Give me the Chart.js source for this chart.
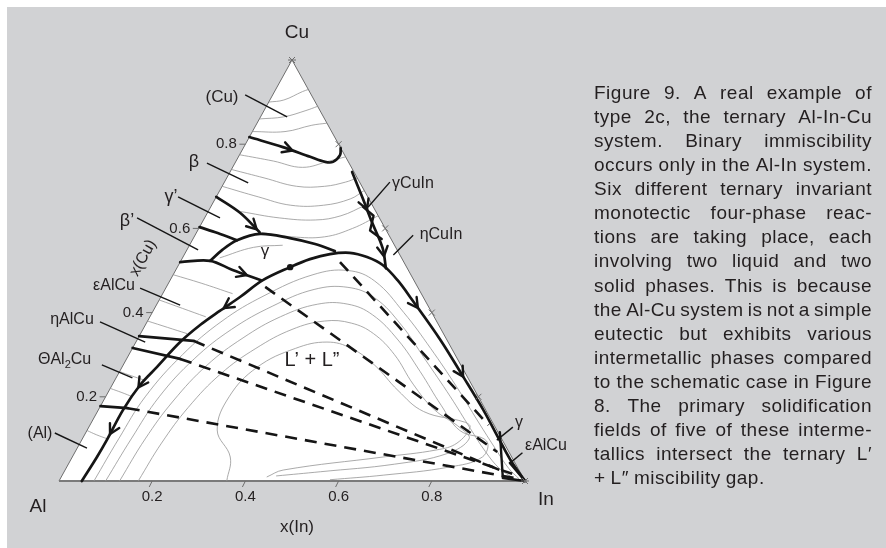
<!DOCTYPE html>
<html><head><meta charset="utf-8">
<script src="https://cdn.jsdelivr.net/npm/chart.js@4.4.1/dist/chart.umd.min.js"></script>
<style>
html,body{margin:0;padding:0;width:886px;height:548px;overflow:hidden;background:#fff;}
#panel{position:absolute;left:7px;top:7px;right:0;bottom:0;background:#d1d2d4;}
#c{position:absolute;left:0;top:0;}
#cap{position:absolute;left:594px;top:81px;width:278px;font-family:"Liberation Sans",Arial,sans-serif;font-size:19px;letter-spacing:0.5px;line-height:24.07px;color:#231f20;}
#cap .l{display:flex;justify-content:space-between;white-space:nowrap;height:24.07px;}
#cap .l.last{justify-content:flex-start;gap:5px;}
</style></head><body>
<div id="panel"></div>
<canvas id="c" width="886" height="548"></canvas>
<div id="cap"></div>
<script>
// ---- data: compositions as [x(In), x(Cu)] ----
const TICKS = [0.2, 0.4, 0.6, 0.8];
const TRIANGLE = [[0,0],[1,0],[0,1],[0,0]];
const GAP_BOUNDARY = [[0.049,0],[0.053,0.057],[0.054,0.097],[0.053,0.169],[0.060,0.228],[0.075,0.271],[0.095,0.330],[0.118,0.371],[0.143,0.404],[0.170,0.437],[0.199,0.477],[0.242,0.508],[0.275,0.527],[0.312,0.539],[0.353,0.542],[0.395,0.532],[0.438,0.513],[0.488,0.477],[0.543,0.430],[0.651,0.335],[0.739,0.252],[0.826,0.169],[0.897,0.097],[0.949,0.045],[1,0]];
const CUIN_LINE = [[0.262,0.734],[0.313,0.675],[0.364,0.615],[0.418,0.553],[0.449,0.505]];
const BETA_LINE = [[0,0.817],[0.084,0.793],[0.154,0.770],[0.192,0.758],[0.209,0.758],[0.216,0.774],[0.209,0.791]];
const GAMMAP_LINE = [[0,0.675],[0.070,0.637],[0.135,0.591]];
const BETAP_LINE = [[0,0.603],[0.046,0.589],[0.096,0.572]];
const GAMMA_LINE = [[0.063,0.523],[0.076,0.549],[0.096,0.572],[0.138,0.587],[0.207,0.577],[0.268,0.563],[0.319,0.546]];
const EPS_LINE = [[0,0.520],[0.063,0.523],[0.122,0.501],[0.195,0.477]];
const GAMMACUIN_LINE = [[0.327,0.651],[0.36,0.63],[0.37,0.595],[0.405,0.575]];
const IN_CORNER_1 = [[0.888,0.116],[0.949,0.007],[1,0]];
const IN_CORNER_2 = [[0.946,0.043],[1,0]];
const TIE_SOLID = [
  [[0,0.344],[0.122,0.333]],
  [[0,0.316],[0.115,0.290]],
  [[0,0.178],[0.061,0.173]]
];
const TIE_DASHED = [
  [[0.122,0.333],[0.946,0.021]],
  [[0.115,0.290],[0.964,0.017]],
  [[0.061,0.173],[0.975,0.007]],
  [[0.212,0.461],[0.906,0.069]],
  [[0.343,0.520],[0.855,0.133]]
];
const GAP_DOT = [[0.242,0.508]];
const ISO_GAP = [
  [[0.075,0],[0.078,0.1],[0.085,0.2],[0.115,0.3],[0.16,0.38],[0.22,0.44],[0.30,0.49],[0.37,0.50],[0.44,0.475],[0.54,0.40],[0.64,0.315],[0.74,0.225],[0.83,0.14],[0.90,0.075],[0.95,0.03],[0.985,0.005]],
  [[0.10,0],[0.105,0.1],[0.115,0.2],[0.145,0.29],[0.19,0.36],[0.25,0.415],[0.32,0.455],[0.39,0.46],[0.46,0.435],[0.55,0.37],[0.64,0.29],[0.74,0.20],[0.82,0.125],[0.88,0.07],[0.93,0.03],[0.975,0.005]],
  [[0.13,0],[0.135,0.1],[0.15,0.19],[0.18,0.275],[0.225,0.34],[0.28,0.39],[0.345,0.42],[0.41,0.42],[0.475,0.395],[0.56,0.335],[0.645,0.26],[0.73,0.18],[0.80,0.12],[0.87,0.095],[0.88,0.057],[0.82,0.033],[0.69,0.014],[0.58,0.003]],
  [[0.17,0],[0.175,0.09],[0.19,0.175],[0.22,0.255],[0.265,0.315],[0.32,0.36],[0.38,0.38],[0.44,0.375],[0.50,0.35],[0.57,0.30],[0.645,0.23],[0.72,0.17],[0.80,0.125],[0.83,0.10],[0.80,0.065],[0.70,0.04],[0.55,0.022],[0.46,0.012]],
  [[0.36,0],[0.339,0.057],[0.279,0.121],[0.265,0.2],[0.29,0.27],[0.35,0.315],[0.41,0.33],[0.47,0.315],[0.54,0.275],[0.62,0.215],[0.70,0.165],[0.80,0.14],[0.818,0.128],[0.809,0.09],[0.774,0.074],[0.667,0.057],[0.468,0.026],[0.441,0.0095]]
];
const ISO_UPPER = [
  [[0,0.90],[0.03,0.905],[0.06,0.925],[0.07,0.93]],
  [[0,0.86],[0.05,0.865],[0.09,0.88],[0.11,0.89]],
  [[0,0.83],[0.07,0.83],[0.12,0.845],[0.15,0.85]],
  [[0,0.775],[0.08,0.76],[0.15,0.745],[0.20,0.76],[0.23,0.77]],
  [[0,0.74],[0.08,0.72],[0.16,0.70],[0.22,0.70],[0.26,0.71],[0.28,0.72]],
  [[0,0.70],[0.09,0.675],[0.17,0.655],[0.24,0.655],[0.29,0.67],[0.31,0.69]],
  [[0.07,0.64],[0.16,0.625],[0.24,0.62],[0.29,0.63],[0.33,0.655],[0.34,0.66]],
  [[0.14,0.59],[0.21,0.58],[0.28,0.58],[0.33,0.60],[0.37,0.63]]
];
const ISO_LEFT = [
  [[0,0.49],[0.07,0.47],[0.15,0.445]],
  [[0,0.43],[0.06,0.41],[0.12,0.39]],
  [[0,0.38],[0.05,0.365],[0.10,0.35]],
  [[0,0.26],[0.03,0.25],[0.062,0.24]],
  [[0,0.22],[0.03,0.21],[0.058,0.20]],
  [[0,0.12],[0.025,0.11],[0.054,0.10]],
  [[0.08,0.53],[0.14,0.555],[0.2,0.56]]
];
const LEADERS = [
  [[-0.059,0.917],[0.057,0.865]],
  [[-0.060,0.755],[0.052,0.708]],
  [[-0.082,0.675],[0.033,0.625]],
  [[-0.145,0.625],[0.024,0.549]],
  [[-0.055,0.458],[0.051,0.418]],
  [[-0.101,0.378],[0.020,0.330]],
  [[-0.046,0.276],[0.035,0.245]],
  [[-0.066,0.114],[0.021,0.078]],
  [[0.355,0.710],[0.338,0.651]],
  [[0.468,0.584],[0.449,0.537]],
  [[0.910,0.128],[0.891,0.097]],
  [[0.961,0.067],[0.947,0.043]]
];
// arrowheads: curve, segment index, position on segment, reversed
const ARROWS = [
  ['beta',1,0.35,false],['gammap',1,0.85,false],
  ['gap',2,0.2,true],['gap',3,0.9,true],['gap',8,0.2,true],
  ['eps',2,0.5,false],['gap',18,0.2,false],['gap',20,0.05,false],
  ['cuin',1,0.5,false],['cuin',3,0.4,false]
];
const CAPTION = ["Figure 9. A real example of","type 2c, the ternary Al-In-Cu","system. Binary immiscibility","occurs only in the Al-In system.","Six different ternary invariant","monotectic four-phase reac-","tions are taking place, each","involving two liquid and two","solid phases. This is because","the Al-Cu system is not a simple","eutectic but exhibits various","intermetallic phases compared","to the schematic case in Figure","8. The primary solidification","fields of five of these interme-","tallics intersect the ternary L\u2032","+ L\u2033 miscibility gap."];

// ---- caption ----
const cap = document.getElementById('cap');
CAPTION.forEach((ln, k) => {
  const d = document.createElement('div');
  d.className = 'l' + (k === CAPTION.length - 1 ? ' last' : '');
  ln.split(' ').forEach(w => { const s = document.createElement('span'); s.textContent = w; d.appendChild(s); });
  cap.appendChild(d);
});

// ---- chart ----
const xy = pts => pts.map(([i, c]) => ({x: i + c / 2, y: c}));
function line(pts, o) {
  return Object.assign({data: xy(pts), showLine: true, pointRadius: 0, pointHoverRadius: 0,
    borderColor: '#151515', borderWidth: 2.7, tension: 0, fill: false, clip: false, order: 1,
    borderCapStyle: 'round', borderJoinStyle: 'round'}, o);
}
const ISO = {borderColor: '#949494', borderWidth: 0.8, tension: 0.4, order: 50, borderCapStyle: 'butt'};
const THICK = {tension: 0.35};
const datasets = [];
datasets.push(line(TRIANGLE, {borderColor: '#6d6d6d', borderWidth: 1, backgroundColor: '#ffffff', fill: 'shape', order: 100, borderCapStyle: 'butt'}));
datasets.push(line([[0,0],[1,0]], {borderColor: '#7a7a7a', borderWidth: 2, order: 99, borderCapStyle: 'butt'}));
ISO_UPPER.concat(ISO_GAP, ISO_LEFT).forEach(p => datasets.push(line(p, ISO)));
const curves = {gap: GAP_BOUNDARY, cuin: CUIN_LINE, beta: BETA_LINE, gammap: GAMMAP_LINE, betap: BETAP_LINE, gamma: GAMMA_LINE, eps: EPS_LINE};
Object.values(curves).forEach(p => datasets.push(line(p, THICK)));
[GAMMACUIN_LINE, IN_CORNER_1, IN_CORNER_2].forEach(p => datasets.push(line(p, {borderWidth: 2.4})));
TIE_SOLID.forEach(p => datasets.push(line(p, {})));
TIE_DASHED.forEach(p => datasets.push(line(p, {borderDash: [12, 8], borderCapStyle: 'butt', borderWidth: 2.6})));
LEADERS.forEach(p => datasets.push(line(p, {borderWidth: 1.4, order: 2, borderCapStyle: 'butt'})));
datasets.push({data: xy(GAP_DOT), showLine: false, pointRadius: 3.2, pointBackgroundColor: '#151515', pointBorderWidth: 0, clip: false, order: 0});

const LABEL_FONT = '"Liberation Sans", Arial, sans-serif';
const LABELS = [
  ['Cu', 297, 33, 19, 'center'], ['Al', 38, 507, 19, 'center'], ['In', 538, 500, 19, 'left'],
  ['x(In)', 297, 527, 17, 'center'],
  ['(Cu)', 222, 97, 17, 'center'], ['\u03b2', 194, 162, 18, 'center'], ['\u03b3\u2019', 171, 197, 18, 'center'],
  ['\u03b2\u2019', 127, 221, 18, 'center'], ['\u03b3', 265, 251, 17, 'center'],
  ['\u03b5AlCu', 114, 286, 16, 'center'], ['\u03b7AlCu', 72, 320, 16, 'center'], ['(Al)', 40, 434, 16, 'center'],
  ['\u03b3CuIn', 413, 184, 16, 'center'], ['\u03b7CuIn', 441, 235, 16, 'center'],
  ['L\u2019 + L\u201d', 312, 360, 20, 'center'],
  ['\u03b3', 519, 423, 16, 'center'], ['\u03b5AlCu', 525, 446, 16, 'left']
];

const deco = {
  id: 'deco',
  afterDatasetsDraw(chart) {
    const ctx = chart.ctx, sx = chart.scales.x, sy = chart.scales.y;
    const P = ([i, c]) => [sx.getPixelForValue(i + c / 2), sy.getPixelForValue(c)];
    ctx.save();
    // arrowheads
    ctx.strokeStyle = '#151515'; ctx.lineWidth = 2.4; ctx.lineCap = 'round'; ctx.lineJoin = 'round';
    ARROWS.forEach(([name, s, t, rev]) => {
      const a = P(curves[name][s]), b = P(curves[name][s + 1]);
      const x = a[0] + (b[0] - a[0]) * t, y = a[1] + (b[1] - a[1]) * t;
      let ang = Math.atan2(b[1] - a[1], b[0] - a[0]); if (rev) ang += Math.PI;
      const L = 11, sp = 0.5;
      ctx.beginPath();
      ctx.moveTo(x - L * Math.cos(ang - sp), y - L * Math.sin(ang - sp));
      ctx.lineTo(x, y);
      ctx.lineTo(x - L * Math.cos(ang + sp), y - L * Math.sin(ang + sp));
      ctx.stroke();
    });
    // ticks
    ctx.strokeStyle = '#6d6d6d'; ctx.lineWidth = 1; ctx.lineCap = 'butt';
    TICKS.forEach(v => {
      let p = P([v, 0]); ctx.beginPath(); ctx.moveTo(p[0], p[1]); ctx.lineTo(p[0] - 3, p[1] + 6); ctx.stroke();
      p = P([0, v]); ctx.beginPath(); ctx.moveTo(p[0], p[1]); ctx.lineTo(p[0] - 6, p[1]); ctx.stroke();
      p = P([1 - v, v]); ctx.beginPath(); ctx.moveTo(p[0] - 3, p[1] - 3); ctx.lineTo(p[0] + 3, p[1] + 3); ctx.moveTo(p[0] - 3, p[1] + 3); ctx.lineTo(p[0] + 3, p[1] - 3); ctx.stroke();
    });
    [[0, 1], [1, 0]].forEach(v => {
      const p = P(v); ctx.beginPath();
      ctx.moveTo(p[0] - 4, p[1]); ctx.lineTo(p[0] + 4, p[1]);
      ctx.moveTo(p[0] - 3, p[1] - 3); ctx.lineTo(p[0] + 3, p[1] + 3);
      ctx.moveTo(p[0] - 3, p[1] + 3); ctx.lineTo(p[0] + 3, p[1] - 3); ctx.stroke();
    });
    // tick labels
    ctx.fillStyle = '#231f20'; ctx.textBaseline = 'middle'; ctx.textAlign = 'center';
    ctx.font = '15px ' + LABEL_FONT;
    TICKS.forEach(v => {
      let p = P([v, 0]); ctx.fillText(String(v), p[0], p[1] + 16);
      p = P([0, v]); ctx.fillText(String(v), p[0] - 19, p[1]);
    });
    // axis title x(Cu)
    const pa = P([0, 0]), pc = P([0, 1]);
    const ang = Math.atan2(pc[1] - pa[1], pc[0] - pa[0]);
    ctx.save(); ctx.translate(143, 258); ctx.rotate(ang); ctx.font = '16px ' + LABEL_FONT;
    ctx.fillText('x(Cu)', 0, 0); ctx.restore();
    // labels
    LABELS.forEach(([t, x, y, sz, al]) => {
      ctx.font = sz + 'px ' + LABEL_FONT; ctx.textAlign = al; ctx.fillText(t, x, y);
    });
    // Theta Al2Cu with subscript
    ctx.textAlign = 'left'; ctx.font = '16px ' + LABEL_FONT;
    let x0 = 38; ctx.fillText('\u0398Al', x0, 360); x0 += ctx.measureText('\u0398Al').width;
    ctx.font = '11px ' + LABEL_FONT; ctx.fillText('2', x0, 365); x0 += ctx.measureText('2').width;
    ctx.font = '16px ' + LABEL_FONT; ctx.fillText('Cu', x0, 360);
    ctx.restore();
  }
};

new Chart(document.getElementById('c'), {
  type: 'scatter',
  data: {datasets},
  options: {
    responsive: false, animation: false, devicePixelRatio: 1,
    layout: {padding: {left: 59, right: 361, top: 60, bottom: 67}},
    scales: {x: {type: 'linear', min: 0, max: 1, display: false}, y: {type: 'linear', min: 0, max: 1, display: false}},
    plugins: {legend: {display: false}, tooltip: {enabled: false}},
    events: []
  },
  plugins: [deco]
});
</script></body></html>
